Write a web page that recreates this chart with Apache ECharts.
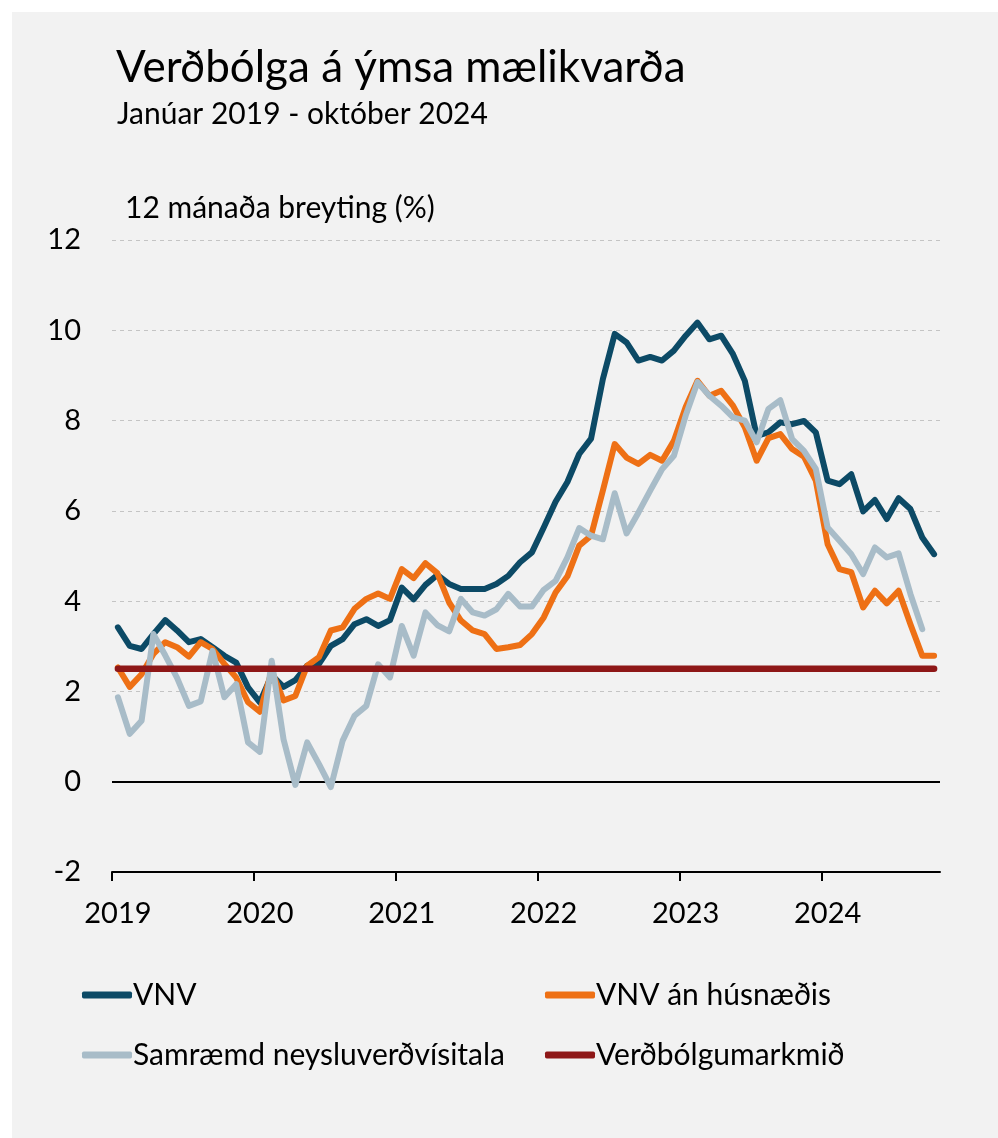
<!DOCTYPE html>
<html><head><meta charset="utf-8">
<script src="https://cdn.jsdelivr.net/npm/echarts@6/dist/echarts.min.js"></script>
<style>html,body{margin:0;padding:0;background:#fff;}#c{width:998px;height:1138px;}</style>
</head><body><div id="c"></div>
<script>
// Monthly 12-month inflation, Jan 2019 - Oct 2024
const years = ['2019', '2020', '2021', '2022', '2023', '2024'];
const vnv = [
  3.42, 3.01, 2.94, 3.27, 3.58, 3.35, 3.09, 3.16, 2.98, 2.79, 2.64, 2.09,
  1.76, 2.36, 2.10, 2.25, 2.57, 2.61, 3.01, 3.16, 3.49, 3.60, 3.45, 3.58,
  4.30, 4.04, 4.36, 4.58, 4.38, 4.27, 4.27, 4.27, 4.38, 4.56, 4.86, 5.08,
  5.63, 6.20, 6.64, 7.26, 7.60, 8.92, 9.92, 9.73, 9.33, 9.41, 9.33, 9.55,
  9.88, 10.17, 9.80, 9.88, 9.47, 8.88, 7.66, 7.74, 7.96, 7.92, 7.99, 7.74,
  6.67, 6.59, 6.81, 5.99, 6.24, 5.82, 6.28, 6.04, 5.41, 5.04
];
const vnvAnHusnaedis = [
  2.53, 2.10, 2.38, 2.83, 3.09, 2.98, 2.77, 3.09, 2.94, 2.61, 2.31, 1.76,
  1.55, 2.45, 1.80, 1.90, 2.57, 2.76, 3.35, 3.42, 3.83, 4.05, 4.17, 4.05,
  4.71, 4.51, 4.84, 4.62, 3.97, 3.57, 3.35, 3.27, 2.94, 2.98, 3.03, 3.27,
  3.64, 4.19, 4.55, 5.23, 5.45, 6.45, 7.48, 7.18, 7.04, 7.24, 7.11, 7.55,
  8.30, 8.88, 8.55, 8.66, 8.33, 7.85, 7.11, 7.61, 7.70, 7.37, 7.20, 6.67,
  5.26, 4.71, 4.64, 3.86, 4.23, 3.95, 4.23, 3.49, 2.79, 2.79
];
const samraemd = [
  1.87, 1.06, 1.35, 3.27, 2.80, 2.30, 1.68, 1.78, 2.90, 1.87, 2.16, 0.87,
  0.66, 2.68, 0.94, -0.07, 0.87, 0.39, -0.12, 0.91, 1.46, 1.68, 2.60, 2.31,
  3.45, 2.79, 3.75, 3.47, 3.33, 4.05, 3.75, 3.68, 3.82, 4.16, 3.88, 3.88,
  4.25, 4.45, 4.97, 5.62, 5.45, 5.37, 6.39, 5.50, 5.96, 6.45, 6.92, 7.22,
  8.11, 8.85, 8.55, 8.33, 8.07, 8.00, 7.52, 8.26, 8.45, 7.59, 7.33, 6.93,
  5.63, 5.34, 5.04, 4.60, 5.19, 4.97, 5.06, 4.16, 3.38, null
];
const markmid = 2.5;
const seriesNames = ['VNV', 'VNV án húsnæðis', 'Samræmd neysluverðvísitala', 'Verðbólgumarkmið'];
const colors = ['#0c4a66', '#ee7015', '#a8bcc8', '#8e1717'];

const FONT = 'Lato, "Open Sans", sans-serif';
const nMonths = vnv.length;
const toPts = arr => arr.map((v, i) => [i + 0.5, v]);
const yearTicks = years.map((y, k) => k * 12);
const yearLabelPos = yearTicks.map(v => v + 0.5);

const chart = echarts.init(document.getElementById('c'), null, {renderer: 'canvas'});

function legendAt(name, left, top) {
  return {
    data: [name], left: left, top: top, padding: 0,
    icon: 'roundRect', itemWidth: 50, itemHeight: 7,
    selectedMode: false,
    textStyle: {fontSize: 30, fontFamily: FONT, color: '#000', padding: [0, 0, 0, -4]}
  };
}

const lineSeries = (name, data, color, width, z) => ({
  name: name, type: 'line', data: toPts(data), showSymbol: false, symbol: 'none',
  color: color, z: z, connectNulls: false,
  lineStyle: {color: color, width: width, cap: 'round', join: 'round'}
});

const s0 = lineSeries(seriesNames[0], vnv, colors[0], 6, 3);
s0.markLine = {
  silent: true, symbol: 'none', label: {show: false},
  lineStyle: {color: '#000', width: 2, type: 'solid'},
  data: [{yAxis: 0}], z: 1
};

const option = {
  animation: false,
  backgroundColor: '#f2f2f2',
  textStyle: {fontFamily: FONT},
  graphic: [
    {type: 'rect', shape: {x: 0, y: 0, width: 998, height: 12}, style: {fill: '#fff'}},
    {type: 'rect', shape: {x: 0, y: 0, width: 12, height: 1138}, style: {fill: '#fff'}},
    {type: 'text', style: {text: 'Verðbólga á ýmsa mælikvarða', x: 116, y: 68, font: '44px ' + FONT, fill: '#000', verticalAlign: 'middle'}},
    {type: 'text', style: {text: 'Janúar 2019 - október 2024', x: 117, y: 114, font: '30px ' + FONT, fill: '#000', verticalAlign: 'middle'}},
    {type: 'text', style: {text: '12 mánaða breyting (%)', x: 125, y: 208, font: '30px ' + FONT, fill: '#000', verticalAlign: 'middle'}}
  ],
  legend: [
    legendAt(seriesNames[0], 82, 980),
    legendAt(seriesNames[1], 545, 980),
    legendAt(seriesNames[2], 82, 1040),
    legendAt(seriesNames[3], 545, 1040)
  ],
  grid: {left: 112, right: 58, top: 240, bottom: 266},
  xAxis: {
    type: 'value', min: 0, max: nMonths,
    axisLine: {show: true, onZero: false, lineStyle: {color: '#000', width: 2}},
    axisTick: {show: true, customValues: yearTicks, length: 9, lineStyle: {color: '#000', width: 2}},
    axisLabel: {customValues: yearLabelPos, formatter: v => years[Math.floor(v / 12)], fontSize: 29, fontFamily: FONT, color: '#000', margin: 27},
    splitLine: {show: false}
  },
  yAxis: {
    type: 'value', min: -2, max: 12, interval: 2,
    axisLine: {show: false}, axisTick: {show: false},
    axisLabel: {fontSize: 29, fontFamily: FONT, color: '#000', margin: 31},
    splitLine: {show: true, lineStyle: {color: '#c4c4c4', width: 1, type: [4, 4]}}
  },
  series: [
    s0,
    lineSeries(seriesNames[1], vnvAnHusnaedis, colors[1], 6, 4),
    lineSeries(seriesNames[2], samraemd, colors[2], 6, 5),
    lineSeries(seriesNames[3], vnv.map(() => markmid), colors[3], 6.5, 6)
  ]
};
chart.setOption(option);
</script>
</body></html>
